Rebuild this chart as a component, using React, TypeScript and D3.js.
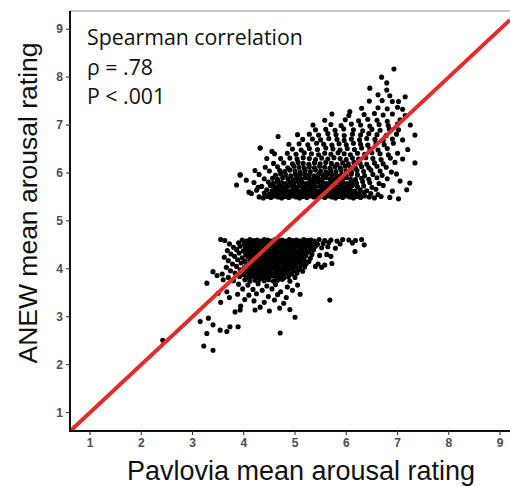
import React from "react";
import * as d3 from "d3";

// Tick values
const xTicks = [1, 2, 3, 4, 5, 6, 7, 8, 9];
const yTicks = [1, 2, 3, 4, 5, 6, 7, 8, 9];

// Annotation text
const annotation = ["Spearman correlation", "ρ = .78", "P < .001"];

// Lower group of words: [Pavlovia rating, ANEW rating]
const lowerCluster: [number, number][] = [
  [3.55,4.61],[3.63,4.59],[3.97,4.60],[4.05,4.58],[4.12,4.61],[4.19,4.59],[4.26,4.60],[4.33,4.58],[4.40,4.61],[4.47,4.60],[4.54,4.58],[4.61,4.61],[4.68,4.59],[4.75,4.60],[4.82,4.58],[4.89,4.61],[4.96,4.59],[5.03,4.60],[5.10,4.58],[5.17,4.61],[5.24,4.59],[5.31,4.60],[5.38,4.58],[5.47,4.61],[5.58,4.59],[5.70,4.60],[5.82,4.58],[5.93,4.61],[6.05,4.60],[6.18,4.59],[6.30,4.61],
  [3.72,4.52],[3.90,4.54],[4.01,4.53],[4.08,4.51],[4.15,4.55],[4.22,4.52],[4.29,4.54],[4.36,4.51],[4.43,4.53],[4.50,4.55],[4.57,4.52],[4.64,4.54],[4.71,4.51],[4.78,4.53],[4.85,4.55],[4.92,4.52],[4.99,4.54],[5.06,4.51],[5.13,4.53],[5.20,4.55],[5.27,4.52],[5.35,4.54],[5.44,4.51],[5.55,4.53],[5.66,4.55],[5.88,4.52],[6.12,4.54],[6.35,4.50],
  [3.80,4.45],[3.93,4.47],[4.03,4.44],[4.11,4.46],[4.18,4.48],[4.25,4.45],[4.32,4.47],[4.39,4.44],[4.46,4.46],[4.53,4.48],[4.60,4.45],[4.67,4.47],[4.74,4.44],[4.81,4.46],[4.88,4.48],[4.95,4.45],[5.02,4.47],[5.09,4.44],[5.16,4.46],[5.23,4.48],[5.31,4.45],[5.40,4.47],[5.52,4.44],[5.64,4.46],[5.79,4.43],
  [3.68,4.38],[3.86,4.40],[3.99,4.37],[4.07,4.39],[4.14,4.41],[4.21,4.38],[4.28,4.40],[4.35,4.37],[4.42,4.39],[4.49,4.41],[4.56,4.38],[4.63,4.40],[4.70,4.37],[4.77,4.39],[4.84,4.41],[4.91,4.38],[4.98,4.40],[5.05,4.37],[5.12,4.39],[5.19,4.41],[5.27,4.38],[5.36,4.40],[5.62,4.30],[6.17,4.36],
  [3.75,4.31],[3.91,4.33],[4.04,4.30],[4.11,4.32],[4.18,4.34],[4.25,4.31],[4.32,4.33],[4.39,4.30],[4.46,4.32],[4.53,4.34],[4.60,4.31],[4.67,4.33],[4.74,4.30],[4.81,4.32],[4.88,4.34],[4.95,4.31],[5.02,4.33],[5.09,4.30],[5.16,4.32],[5.24,4.34],[5.33,4.30],[5.48,4.28],[5.70,4.26],
  [3.62,4.24],[3.82,4.26],[3.97,4.23],[4.08,4.25],[4.15,4.27],[4.22,4.24],[4.29,4.26],[4.36,4.23],[4.43,4.25],[4.50,4.27],[4.57,4.24],[4.64,4.26],[4.71,4.23],[4.78,4.25],[4.85,4.27],[4.92,4.24],[4.99,4.26],[5.06,4.23],[5.13,4.25],[5.21,4.27],[5.30,4.22],
  [3.70,4.17],[3.88,4.19],[4.02,4.16],[4.12,4.18],[4.19,4.20],[4.26,4.17],[4.33,4.19],[4.40,4.16],[4.47,4.18],[4.54,4.20],[4.61,4.17],[4.68,4.19],[4.75,4.16],[4.82,4.18],[4.89,4.20],[4.96,4.17],[5.03,4.19],[5.10,4.16],[5.18,4.18],[5.27,4.15],
  [3.78,4.10],[3.95,4.12],[4.06,4.09],[4.14,4.11],[4.21,4.13],[4.28,4.10],[4.35,4.12],[4.42,4.09],[4.49,4.11],[4.56,4.13],[4.63,4.10],[4.70,4.12],[4.77,4.09],[4.84,4.11],[4.91,4.13],[4.98,4.10],[5.05,4.12],[5.13,4.09],[5.22,4.11],[5.45,4.10],[5.58,4.08],[5.72,4.11],
  [3.66,4.03],[3.86,4.05],[4.01,4.02],[4.10,4.04],[4.17,4.06],[4.24,4.03],[4.31,4.05],[4.38,4.02],[4.45,4.04],[4.52,4.06],[4.59,4.03],[4.66,4.05],[4.73,4.02],[4.80,4.04],[4.87,4.06],[4.94,4.03],[5.01,4.05],[5.09,4.02],[5.19,4.04],[5.40,4.05],[5.52,4.03],
  [3.74,3.96],[3.93,3.98],[4.05,3.95],[4.13,3.97],[4.20,3.99],[4.27,3.96],[4.34,3.98],[4.41,3.95],[4.48,3.97],[4.55,3.99],[4.62,3.96],[4.69,3.98],[4.76,3.95],[4.83,3.97],[4.90,3.99],[4.97,3.96],[5.06,3.98],[5.15,3.95],
  [3.58,3.89],[3.83,3.91],[4.00,3.88],[4.09,3.90],[4.16,3.92],[4.23,3.89],[4.30,3.91],[4.37,3.88],[4.44,3.90],[4.51,3.92],[4.58,3.89],[4.65,3.91],[4.72,3.88],[4.79,3.90],[4.86,3.92],[4.94,3.89],[5.04,3.91],
  [3.70,3.82],[3.92,3.84],[4.06,3.81],[4.14,3.83],[4.21,3.85],[4.28,3.82],[4.35,3.84],[4.42,3.81],[4.49,3.83],[4.56,3.85],[4.63,3.82],[4.70,3.84],[4.78,3.81],[4.87,3.83],[5.00,3.82],
  [3.80,3.75],[4.02,3.77],[4.12,3.74],[4.22,3.76],[4.31,3.78],[4.40,3.75],[4.49,3.77],[4.58,3.74],[4.66,3.76],[4.75,3.78],[4.90,3.74],
  [3.90,3.68],[4.08,3.66],[4.28,3.69],[4.45,3.64],[4.62,3.67],[4.85,3.62],[5.05,3.66],
  [3.98,3.58],[4.18,3.57],[4.36,3.55],[4.55,3.58],[4.72,3.52],[4.95,3.55],
  [3.88,3.47],[4.10,3.45],[4.25,3.48],[4.48,3.42],[4.66,3.46],[4.83,3.40],[5.10,3.47],
  [4.02,3.36],[4.20,3.33],[4.40,3.30],[4.60,3.35],[4.78,3.28],
  [3.94,3.22],[4.32,3.20],[4.70,3.18],[4.50,3.12],[4.22,3.14],[4.90,3.15],
  [5.68,3.35],[5.00,2.99],[4.71,2.66],[3.22,2.39],[3.40,2.30],[3.28,2.65],[3.15,2.90],[3.31,2.97],[3.40,2.83],[3.54,2.72],[3.67,2.69],[3.73,2.79],[3.89,2.79],
  [3.83,3.10],[3.93,3.14],[3.50,3.49],[3.67,3.52],[3.60,3.77],[3.40,3.94],[3.28,3.70],[3.55,3.30],[3.72,3.40],[3.48,3.86],[2.42,2.51],
];

// Upper group of words: [Pavlovia rating, ANEW rating]
const upperCluster: [number, number][] = [
  [4.30,5.50],[4.38,5.48],[4.46,5.51],[4.53,5.49],[4.60,5.52],[4.67,5.50],[4.74,5.48],[4.81,5.51],[4.88,5.49],[4.95,5.52],[5.02,5.50],[5.09,5.48],[5.16,5.51],[5.23,5.49],[5.30,5.52],[5.37,5.50],[5.44,5.48],[5.51,5.51],[5.58,5.49],[5.65,5.52],[5.72,5.50],[5.79,5.48],[5.86,5.51],[5.93,5.49],[6.00,5.52],[6.07,5.50],[6.14,5.48],[6.21,5.51],[6.28,5.49],[6.36,5.52],[6.45,5.50],[6.55,5.48],[6.68,5.51],[6.85,5.49],[7.02,5.46],
  [4.15,5.57],[4.40,5.58],[4.50,5.56],[4.57,5.59],[4.64,5.57],[4.71,5.55],[4.78,5.58],[4.85,5.56],[4.92,5.59],[4.99,5.57],[5.06,5.55],[5.13,5.58],[5.20,5.56],[5.27,5.59],[5.34,5.57],[5.41,5.55],[5.48,5.58],[5.55,5.56],[5.62,5.59],[5.69,5.57],[5.76,5.55],[5.83,5.58],[5.90,5.56],[5.97,5.59],[6.04,5.57],[6.11,5.55],[6.18,5.58],[6.26,5.56],[6.35,5.59],[6.48,5.57],[6.62,5.55],[7.18,5.65],
  [4.25,5.64],[4.45,5.65],[4.55,5.63],[4.62,5.66],[4.69,5.64],[4.76,5.62],[4.83,5.65],[4.90,5.63],[4.97,5.66],[5.04,5.64],[5.11,5.62],[5.18,5.65],[5.25,5.63],[5.32,5.66],[5.39,5.64],[5.46,5.62],[5.53,5.65],[5.60,5.63],[5.67,5.66],[5.74,5.64],[5.81,5.62],[5.88,5.65],[5.95,5.63],[6.02,5.66],[6.09,5.64],[6.17,5.62],[6.27,5.65],[6.40,5.63],[6.58,5.66],[6.90,5.62],
  [3.86,5.75],[4.35,5.72],[4.52,5.74],[4.60,5.71],[4.68,5.73],[4.76,5.70],[4.84,5.72],[4.92,5.74],[5.00,5.71],[5.08,5.73],[5.16,5.70],[5.24,5.72],[5.32,5.74],[5.40,5.71],[5.48,5.73],[5.56,5.70],[5.64,5.72],[5.72,5.74],[5.80,5.71],[5.88,5.73],[5.96,5.70],[6.04,5.72],[6.12,5.74],[6.22,5.71],[6.34,5.73],[6.50,5.70],[6.72,5.74],[7.24,5.79],
  [4.20,5.80],[4.48,5.81],[4.58,5.79],[4.66,5.82],[4.74,5.80],[4.82,5.78],[4.90,5.81],[4.98,5.79],[5.06,5.82],[5.14,5.80],[5.22,5.78],[5.30,5.81],[5.38,5.79],[5.46,5.82],[5.54,5.80],[5.62,5.78],[5.70,5.81],[5.78,5.79],[5.86,5.82],[5.94,5.80],[6.02,5.78],[6.10,5.81],[6.20,5.79],[6.32,5.82],[6.46,5.80],[6.64,5.78],[7.05,5.83],
  [4.40,5.88],[4.56,5.89],[4.66,5.87],[4.76,5.90],[4.86,5.88],[4.96,5.86],[5.04,5.89],[5.12,5.87],[5.20,5.90],[5.28,5.88],[5.36,5.86],[5.44,5.89],[5.52,5.87],[5.60,5.90],[5.68,5.88],[5.76,5.86],[5.84,5.89],[5.92,5.87],[6.00,5.90],[6.08,5.88],[6.18,5.86],[6.30,5.89],[6.44,5.87],[6.60,5.90],[6.80,5.88],
  [3.93,5.96],[4.30,5.97],[4.62,5.95],[4.72,5.98],[4.82,5.96],[4.92,5.94],[5.01,5.97],[5.10,5.95],[5.19,5.98],[5.28,5.96],[5.37,5.94],[5.46,5.97],[5.55,5.95],[5.64,5.98],[5.73,5.96],[5.82,5.94],[5.91,5.97],[6.00,5.95],[6.10,5.98],[6.22,5.96],[6.36,5.94],[6.52,5.97],[6.70,5.95],[6.98,5.98],
  [4.50,6.04],[4.70,6.05],[4.80,6.03],[4.90,6.06],[5.00,6.04],[5.10,6.02],[5.20,6.05],[5.30,6.03],[5.40,6.06],[5.50,6.04],[5.60,6.02],[5.70,6.05],[5.80,6.03],[5.90,6.06],[6.00,6.04],[6.10,6.02],[6.21,6.05],[6.34,6.03],[6.48,6.06],[6.66,6.04],[6.88,6.02],
  [4.42,6.12],[4.66,6.13],[4.86,6.11],[4.98,6.14],[5.08,6.12],[5.18,6.10],[5.28,6.13],[5.38,6.11],[5.48,6.14],[5.58,6.12],[5.68,6.10],[5.78,6.13],[5.88,6.11],[5.98,6.14],[6.08,6.12],[6.18,6.10],[6.30,6.13],[6.44,6.11],[6.60,6.14],[6.78,6.12],[7.34,6.21],
  [4.58,6.20],[4.78,6.21],[4.95,6.19],[5.06,6.22],[5.16,6.20],[5.27,6.18],[5.38,6.21],[5.49,6.19],[5.60,6.22],[5.71,6.20],[5.82,6.18],[5.93,6.21],[6.04,6.19],[6.15,6.22],[6.27,6.20],[6.40,6.18],[6.55,6.21],[6.72,6.19],[6.95,6.22],
  [4.72,6.30],[4.90,6.31],[5.04,6.29],[5.16,6.32],[5.28,6.30],[5.40,6.28],[5.52,6.31],[5.64,6.29],[5.76,6.32],[5.88,6.30],[6.00,6.28],[6.12,6.31],[6.24,6.29],[6.38,6.32],[6.52,6.30],[6.68,6.28],[6.86,6.31],[7.10,6.29],
  [4.60,6.40],[4.85,6.41],[5.02,6.39],[5.18,6.42],[5.32,6.40],[5.46,6.38],[5.58,6.41],[5.70,6.39],[5.84,6.42],[5.96,6.40],[6.08,6.38],[6.22,6.41],[6.36,6.39],[6.50,6.42],[6.66,6.40],[6.82,6.38],[7.00,6.41],
  [4.32,6.52],[4.95,6.50],[5.12,6.48],[5.28,6.51],[5.44,6.49],[5.60,6.52],[5.74,6.50],[5.88,6.48],[6.02,6.51],[6.16,6.49],[6.30,6.52],[6.46,6.50],[6.62,6.48],[6.80,6.51],[7.20,6.49],
  [4.88,6.60],[5.08,6.61],[5.25,6.59],[5.42,6.62],[5.56,6.60],[5.72,6.58],[5.86,6.61],[6.00,6.59],[6.14,6.62],[6.28,6.60],[6.42,6.58],[6.58,6.61],[6.74,6.59],[6.92,6.62],
  [4.67,6.76],[5.15,6.70],[5.34,6.71],[5.50,6.69],[5.66,6.72],[5.82,6.70],[5.96,6.68],[6.10,6.71],[6.26,6.69],[6.40,6.72],[6.56,6.70],[6.72,6.68],[6.90,6.71],[7.10,6.69],
  [5.05,6.80],[5.28,6.81],[5.46,6.79],[5.64,6.82],[5.80,6.80],[5.96,6.78],[6.12,6.81],[6.28,6.79],[6.44,6.82],[6.60,6.80],[6.78,6.78],[6.98,6.81],[7.34,6.79],
  [5.40,6.90],[5.60,6.91],[5.78,6.89],[5.95,6.92],[6.14,6.90],[6.32,6.88],[6.50,6.91],[6.66,6.89],[6.84,6.92],[7.02,6.90],
  [5.35,7.00],[5.70,7.01],[5.90,6.99],[6.10,7.02],[6.28,7.00],[6.46,6.98],[6.64,7.01],[6.82,6.99],[7.00,7.02],[7.25,7.00],
  [5.58,7.10],[5.98,7.11],[6.07,7.28],[6.24,7.09],[6.42,7.12],[6.60,7.10],[6.80,7.08],[7.05,7.11],
  [5.72,7.23],[6.05,7.20],[6.35,7.22],[6.55,7.24],[6.72,7.21],[6.90,7.23],[7.15,7.20],
  [6.30,7.35],[6.62,7.36],[6.80,7.34],[7.00,7.37],[7.10,7.33],
  [6.45,7.50],[6.70,7.51],[6.90,7.49],[7.02,7.49],
  [6.62,7.63],[6.85,7.61],[7.15,7.59],
  [6.46,7.77],[6.79,7.73],[6.79,7.88],[6.69,8.00],[6.93,8.17],
  [4.10,5.60],[4.05,5.85],[4.22,6.05],[4.45,6.30],[4.55,6.45],[4.28,5.70],[3.93,5.96],[4.32,6.52],
];

const W = 510;
const H = 486;
const left = 70;
const right = 510;
const top = 11;
const bottom = 431;

export default function App() {
  const x = d3.scaleLinear().domain([0.61, 9.195]).range([left, right]);
  const y = d3.scaleLinear().domain([0.615, 9.38]).range([bottom, top]);
  const [x0, x1] = x.domain();
  const idLine = d3
    .line<number>()
    .x((v) => x(v))
    .y((v) => y(v))([x0, x1]);

  const tickFont = "'Liberation Sans', Arial, sans-serif";
  const tickColor = "#4d4d4d";

  return (
    <svg
      width={W}
      height={H}
      style={{ position: "absolute", left: 0, top: 0, background: "#fff" }}
    >
      <defs>
        <clipPath id="plot">
          <rect x={left} y={top} width={right - left} height={bottom - top} />
        </clipPath>
      </defs>
      <rect x={0} y={0} width={W} height={H} fill="#fff" />
      {/* top border */}
      <line x1={left} x2={right} y1={top} y2={top} stroke="#8a8a8a" strokeWidth={1.2} />

      <g clipPath="url(#plot)">
        {lowerCluster.concat(upperCluster).map(([a, b], i) => (
          <circle key={i} cx={x(a)} cy={y(b)} r={2.55} fill="#000" />
        ))}
        <path d={idLine ?? ""} stroke="#e52a2a" strokeWidth={4} fill="none" />
      </g>

      {/* axes */}
      <line x1={left} x2={left} y1={top} y2={bottom + 1} stroke="#111" strokeWidth={2} />
      <line x1={left - 1} x2={right} y1={bottom} y2={bottom} stroke="#111" strokeWidth={2} />

      {xTicks.map((t) => (
        <g key={"x" + t}>
          <line x1={x(t)} x2={x(t)} y1={bottom} y2={bottom + 4} stroke="#333" strokeWidth={1.1} />
          <text
            x={x(t)}
            y={447}
            textAnchor="middle"
            fontFamily={tickFont}
            fontWeight="bold"
            fontSize={12}
            fill={tickColor}
          >
            {t}
          </text>
        </g>
      ))}
      {yTicks.map((t) => (
        <g key={"y" + t}>
          <line x1={left - 4} x2={left} y1={y(t)} y2={y(t)} stroke="#333" strokeWidth={1.1} />
          <text
            x={63}
            y={y(t) + 4.2}
            textAnchor="end"
            fontFamily={tickFont}
            fontWeight="bold"
            fontSize={12}
            fill={tickColor}
          >
            {t}
          </text>
        </g>
      ))}

      {/* axis titles */}
      <text
        x={301}
        y={480}
        textAnchor="middle"
        fontFamily={tickFont}
        fontSize={27}
        fill="#111"
      >
        Pavlovia mean arousal rating
      </text>
      <text
        transform={`translate(37,203) rotate(-90)`}
        textAnchor="middle"
        fontFamily={tickFont}
        fontSize={26.5}
        fill="#111"
      >
        ANEW mean arousal rating
      </text>

      {/* annotation */}
      {annotation.map((s, i) => (
        <text
          key={s}
          x={87}
          y={45 + i * 29.5}
          fontFamily="'Open Sans', 'Noto Sans', sans-serif"
          fontSize={21.3}
          fill="#111"
        >
          {s}
        </text>
      ))}
    </svg>
  );
}
